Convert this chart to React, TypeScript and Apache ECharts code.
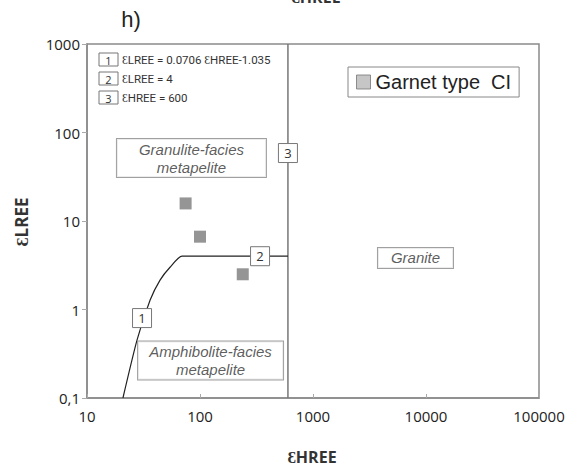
import React, { useEffect, useRef } from "react";
import * as echarts from "echarts";

const garnetHREE = [74.6, 100, 239];
const garnetLREE = [15.8, 6.65, 2.5];
const boundaryHREE = [20.8, 27.7, 36.2, 44.3, 54.3, 69.3, 600];
const boundaryLREE = [0.1, 0.45, 1.28, 2.15, 3.0, 4, 4];
const line3HREE = [600, 600];
const line3LREE = [0.1, 1000];
const numberLabels = ["1", "2", "3"];
const numberHREE = [30.7, 340, 600];
const numberLREE = [0.8, 4, 58.6];
const fieldNames = ["Granulite-facies\nmetapelite", "Amphibolite-facies\nmetapelite", "Granite"];
const fieldHREE = [84, 124, 8070];
const fieldLREE = [51.5, 0.265, 3.82];
const fieldWidths = [137, 133, 63];
const equations = ["ƐLREE = 0.0706 ƐHREE-1.035", "ƐLREE = 4", "ƐHREE = 600"];
const seriesName = "Garnet type  CI";

export default function App() {
  const ref = useRef<HTMLDivElement>(null);
  useEffect(() => {
    if (!ref.current) return;
    const chart = echarts.init(ref.current, undefined, { renderer: "svg" });
    const eqGraphics: any[] = [];
    equations.forEach((t, i) => {
      const y = 53 + i * 19;
      eqGraphics.push({
        type: "rect",
        shape: { x: 99, y, width: 19, height: 13 },
        style: { fill: "#fff", stroke: "#777", lineWidth: 1 },
      });
      eqGraphics.push({
        type: "text",
        x: 108.5,
        y: y + 7,
        style: { text: numberLabels[i], fontSize: 11, fontFamily: "Open Sans", fill: "#333", align: "center", verticalAlign: "middle" },
      });
      eqGraphics.push({
        type: "text",
        x: 122,
        y: y + 7,
        style: { text: t, fontSize: 11.5, fontFamily: "Roboto", fill: "#333", align: "left", verticalAlign: "middle" },
      });
    });
    const fmt = (v: number) => (Math.abs(v - 0.1) < 1e-9 ? "0,1" : String(Math.round(v)));
    chart.setOption({
      animation: false,
      backgroundColor: "#fff",
      grid: { left: 87, right: 33, top: 44, bottom: 77, show: true, borderColor: "#8a8a8a", borderWidth: 1.5, backgroundColor: "transparent" },
      legend: {
        left: 348,
        top: 67,
        padding: [5, 8, 5, 8],
        itemWidth: 14,
        itemHeight: 14,
        icon: "rect",
        borderColor: "#888",
        borderWidth: 1,
        backgroundColor: "#fff",
        textStyle: { fontSize: 20, fontFamily: "Liberation Sans", color: "#222" },
        data: [{ name: seriesName, itemStyle: { color: "#b8b8b8", borderColor: "#777", borderWidth: 1 } }],
      },
      xAxis: {
        type: "log",
        logBase: 10,
        min: 10,
        max: 100000,
        axisLine: { lineStyle: { color: "#8a8a8a", width: 1.5 } },
        axisTick: { inside: true, length: 4, lineStyle: { color: "#aaa" } },
        splitLine: { show: false },
        axisLabel: { fontSize: 15, fontFamily: "Open Sans", color: "#222", margin: 10, formatter: fmt },
      },
      yAxis: {
        type: "log",
        logBase: 10,
        min: 0.1,
        max: 1000,
        axisLine: { lineStyle: { color: "#8a8a8a", width: 1.5 } },
        axisTick: { inside: false, length: 5, lineStyle: { color: "#aaa" } },
        splitLine: { show: false },
        axisLabel: { fontSize: 15, fontFamily: "Open Sans", color: "#222", margin: 7, formatter: fmt },
      },
      graphic: [
        { type: "text", x: 131, y: 19, style: { text: "h)", fontSize: 22, fontFamily: "Liberation Sans", fill: "#222", align: "center", verticalAlign: "middle" } },
        { type: "text", x: 316, y: 5, style: { text: "ƐHREE", fontSize: 16, fontWeight: "bold", fontFamily: "Open Sans", fill: "#333", align: "center", verticalAlign: "bottom" } },
        { type: "text", x: 312, y: 457, style: { text: "ƐHREE", fontSize: 16, fontWeight: "bold", fontFamily: "Open Sans", fill: "#333", align: "center", verticalAlign: "middle" } },
        { type: "text", x: 21, y: 222, rotation: Math.PI / 2, style: { text: "ƐLREE", fontSize: 17, fontWeight: "bold", fontFamily: "Open Sans", fill: "#333", align: "center", verticalAlign: "middle" } },
        ...eqGraphics,
      ],
      series: [
        {
          type: "line",
          name: "line3",
          data: line3HREE.map((h, i) => [h, line3LREE[i]]),
          symbol: "none",
          lineStyle: { color: "#777", width: 1.5 },
          silent: true,
          z: 1,
        },
        {
          type: "line",
          name: "boundary",
          data: boundaryHREE.map((h, i) => [h, boundaryLREE[i]]),
          symbol: "none",
          smooth: 0.2,
          lineStyle: { color: "#222", width: 1.2 },
          silent: true,
          z: 1,
        },
        {
          type: "scatter",
          name: seriesName,
          data: garnetHREE.map((h, i) => [h, garnetLREE[i]]),
          symbol: "rect",
          symbolSize: 12,
          itemStyle: { color: "#7a7a7a" },
          z: 3,
        },
        {
          type: "scatter",
          name: "numbers",
          data: numberHREE.map((h, i) => ({ value: [h, numberLREE[i]], label: { formatter: numberLabels[i] } })),
          symbol: "rect",
          symbolSize: [19, 19],
          itemStyle: { color: "#fff", borderColor: "#777", borderWidth: 1, opacity: 1 },
          label: { show: true, position: "inside", fontSize: 13, fontFamily: "Open Sans", color: "#333" },
          silent: true,
          z: 5,
        },
        {
          type: "scatter",
          name: "fields",
          data: fieldHREE.map((h, i) => ({
            value: [h, fieldLREE[i]],
            label: { formatter: fieldNames[i], width: fieldWidths[i] },
          })),
          symbolSize: 1,
          itemStyle: { color: "transparent" },
          label: {
            show: true,
            position: "inside",
            fontSize: 15,
            fontStyle: "italic",
            fontFamily: "Liberation Sans",
            color: "#333",
            align: "center",
            lineHeight: 18,
            backgroundColor: "#fff",
            borderColor: "#888",
            borderWidth: 1,
            padding: [1, 6, 1, 6],
          },
          silent: true,
          z: 4,
        },
      ],
    });
    return () => chart.dispose();
  }, []);
  return <div ref={ref} style={{ width: 572, height: 475, position: "absolute", left: 0, top: 0 }} />;
}
